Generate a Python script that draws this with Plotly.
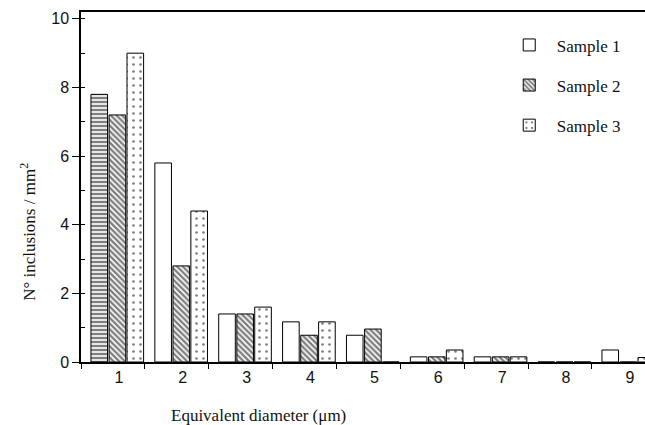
import plotly.graph_objects as go

categories = ["1", "2", "3", "4", "5", "6", "7", "8", "9"]
sample1 = [7.8, 5.8, 1.4, 1.17, 0.78, 0.15, 0.15, 0.0, 0.35]
sample2 = [7.2, 2.8, 1.4, 0.78, 0.96, 0.15, 0.15, 0.0, 0.0]
sample3 = [9.0, 4.4, 1.6, 1.17, 0.0, 0.35, 0.15, 0.0, 0.13]
tick_y = [0, 2, 4, 6, 8, 10]

W = 0.26
line = dict(color="black", width=1)

fig = go.Figure()
# Sample 1: first bar has horizontal striping in the original
fig.add_trace(go.Bar(
    x=categories[:1], y=sample1[:1], offset=-0.344, width=W,
    marker=dict(color="white", line=line,
                pattern=dict(shape="-", fgcolor="black", bgcolor="white", size=4, solidity=0.6)),
    showlegend=False, legendgroup="s1", hoverinfo="skip"))
fig.add_trace(go.Bar(
    x=categories, y=[None] + sample1[1:], offset=-0.344, width=W, name="Sample 1",
    marker=dict(color="white", line=line), legendgroup="s1"))
fig.add_trace(go.Bar(
    x=categories, y=sample2, offset=-0.06, width=W, name="Sample 2",
    marker=dict(color="white", line=line,
                pattern=dict(shape="\\", fgcolor="black", bgcolor="white", size=4, solidity=0.6)),
    legendgroup="s2"))
fig.add_trace(go.Bar(
    x=categories, y=sample3, offset=0.22, width=W, name="Sample 3",
    marker=dict(color="white", line=line,
                pattern=dict(shape=".", fgcolor="black", bgcolor="white", size=7, solidity=0.12)),
    legendgroup="s3"))

fig.update_layout(
    width=645, height=425,
    margin=dict(l=81, r=0, t=12, b=63),
    paper_bgcolor="white", plot_bgcolor="white",
    showlegend=True,
    legend=dict(x=0.746, y=0.956, xanchor="left", yanchor="top",
                font=dict(family="Liberation Serif", size=17, color="#111"),
                tracegroupgap=15, itemwidth=45, bgcolor="rgba(0,0,0,0)"),
    xaxis=dict(type="category", range=[-0.5, 8.33], tickson="boundaries",
               ticks="outside", ticklen=5, tickcolor="black",
               showline=True, linecolor="black", linewidth=1.5, mirror=True,
               showgrid=False, ticklabelshift=6, ticklabeloverflow="allow",
               tickfont=dict(family="Liberation Sans", size=16, color="#111")),
    yaxis=dict(range=[0, 10.2], tickvals=tick_y, ticks="outside", ticklen=7,
               tickcolor="black", showline=True, linecolor="black", linewidth=1.5,
               showgrid=False, zeroline=False,
               minor=dict(dtick=1, ticks="inside", ticklen=4, tickcolor="black", showgrid=False),
               tickfont=dict(family="Liberation Sans", size=16, color="#111")),
    annotations=[
        dict(text="Equivalent diameter (\u03bcm)", xref="paper", yref="paper",
             x=0.315, y=-0.152, xanchor="center", yanchor="middle", showarrow=False,
             font=dict(family="Liberation Serif", size=17, color="#111")),
        dict(text="N\u00b0 inclusions / mm<sup>2</sup>", xref="paper", yref="paper",
             x=-0.094, y=0.372, xanchor="center", yanchor="middle", showarrow=False,
             textangle=-90, font=dict(family="Liberation Serif", size=17, color="#111")),
    ],
)

fig.write_html("out.html", config={"displayModeBar": False},
               post_script="document.body.style.margin='0';document.body.style.overflow='hidden';")
